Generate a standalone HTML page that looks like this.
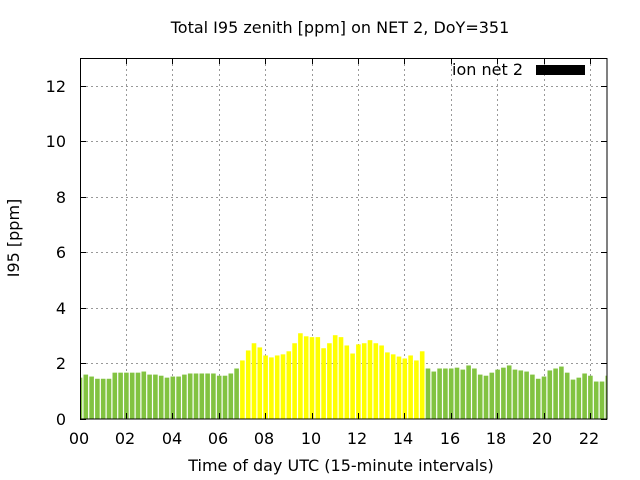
<!DOCTYPE html>
<html><head><meta charset="utf-8"><style>body{margin:0;background:#fff}svg{display:block;font-family:"DejaVu Sans","Liberation Sans",sans-serif}</style></head><body>
<svg width="640" height="480" viewBox="0 0 640 480" xmlns="http://www.w3.org/2000/svg">
<defs><clipPath id="c"><rect x="80" y="58" width="527" height="361"/></clipPath></defs>
<text x="340" y="33" font-size="16" text-anchor="middle">Total I95 zenith [ppm] on NET 2, DoY=351</text>
<g stroke="#999" stroke-dasharray="2,3" stroke-width="1">
<line x1="81" x2="606" y1="363.5" y2="363.5"/><line x1="81" x2="606" y1="308.5" y2="308.5"/><line x1="81" x2="606" y1="252.5" y2="252.5"/><line x1="81" x2="606" y1="197.5" y2="197.5"/><line x1="81" x2="606" y1="141.5" y2="141.5"/><line x1="81" x2="606" y1="86.5" y2="86.5"/>
<line x1="126.5" x2="126.5" y1="59" y2="418"/><line x1="172.5" x2="172.5" y1="59" y2="418"/><line x1="219.5" x2="219.5" y1="59" y2="418"/><line x1="265.5" x2="265.5" y1="59" y2="418"/><line x1="312.5" x2="312.5" y1="59" y2="418"/><line x1="358.5" x2="358.5" y1="59" y2="418"/><line x1="404.5" x2="404.5" y1="59" y2="418"/><line x1="451.5" x2="451.5" y1="59" y2="418"/><line x1="497.5" x2="497.5" y1="59" y2="418"/><line x1="544.5" x2="544.5" y1="59" y2="418"/><line x1="590.5" x2="590.5" y1="59" y2="418"/>
</g>
<g clip-path="url(#c)"><g transform="translate(0,419) scale(1,-27.75)" fill="#82c341">
<rect x="77.7" width="4.6" height="1.49"/><rect x="83.5" width="4.6" height="1.6"/><rect x="89.3" width="4.6" height="1.53"/><rect x="95.1" width="4.6" height="1.45"/><rect x="100.9" width="4.6" height="1.45"/><rect x="106.7" width="4.6" height="1.45"/><rect x="112.5" width="4.6" height="1.67"/><rect x="118.3" width="4.6" height="1.67"/><rect x="124.1" width="4.6" height="1.67"/><rect x="129.9" width="4.6" height="1.67"/><rect x="135.7" width="4.6" height="1.67"/><rect x="141.5" width="4.6" height="1.71"/><rect x="147.3" width="4.6" height="1.6"/><rect x="153.1" width="4.6" height="1.6"/><rect x="158.9" width="4.6" height="1.56"/><rect x="164.7" width="4.6" height="1.49"/><rect x="170.5" width="4.6" height="1.53"/><rect x="176.3" width="4.6" height="1.53"/><rect x="182.1" width="4.6" height="1.6"/><rect x="187.9" width="4.6" height="1.64"/><rect x="193.7" width="4.6" height="1.64"/><rect x="199.5" width="4.6" height="1.64"/><rect x="205.3" width="4.6" height="1.64"/><rect x="211.1" width="4.6" height="1.64"/><rect x="216.9" width="4.6" height="1.56"/><rect x="222.7" width="4.6" height="1.56"/><rect x="228.5" width="4.6" height="1.64"/><rect x="234.3" width="4.6" height="1.82"/>
<g fill="#ffff00">
<rect x="240.1" width="4.6" height="2.11"/><rect x="245.9" width="4.6" height="2.47"/><rect x="251.7" width="4.6" height="2.73"/><rect x="257.5" width="4.6" height="2.58"/><rect x="263.3" width="4.6" height="2.29"/><rect x="269.1" width="4.6" height="2.22"/><rect x="274.9" width="4.6" height="2.29"/><rect x="280.7" width="4.6" height="2.33"/><rect x="286.5" width="4.6" height="2.44"/><rect x="292.3" width="4.6" height="2.73"/><rect x="298.1" width="4.6" height="3.09"/><rect x="303.9" width="4.6" height="2.98"/><rect x="309.7" width="4.6" height="2.95"/><rect x="315.5" width="4.6" height="2.95"/><rect x="321.3" width="4.6" height="2.55"/><rect x="327.1" width="4.6" height="2.73"/><rect x="332.9" width="4.6" height="3.02"/><rect x="338.7" width="4.6" height="2.95"/><rect x="344.5" width="4.6" height="2.65"/><rect x="350.3" width="4.6" height="2.36"/><rect x="356.1" width="4.6" height="2.69"/><rect x="361.9" width="4.6" height="2.73"/><rect x="367.7" width="4.6" height="2.84"/><rect x="373.5" width="4.6" height="2.73"/><rect x="379.3" width="4.6" height="2.65"/><rect x="385.1" width="4.6" height="2.40"/><rect x="390.9" width="4.6" height="2.33"/><rect x="396.7" width="4.6" height="2.25"/><rect x="402.5" width="4.6" height="2.18"/><rect x="408.3" width="4.6" height="2.29"/><rect x="414.1" width="4.6" height="2.11"/><rect x="419.9" width="4.6" height="2.44"/>
</g>
<rect x="425.7" width="4.6" height="1.82"/><rect x="431.5" width="4.6" height="1.71"/><rect x="437.3" width="4.6" height="1.82"/><rect x="443.1" width="4.6" height="1.82"/><rect x="448.9" width="4.6" height="1.82"/><rect x="454.7" width="4.6" height="1.85"/><rect x="460.5" width="4.6" height="1.78"/><rect x="466.3" width="4.6" height="1.93"/><rect x="472.1" width="4.6" height="1.82"/><rect x="477.9" width="4.6" height="1.6"/><rect x="483.7" width="4.6" height="1.56"/><rect x="489.5" width="4.6" height="1.67"/><rect x="495.3" width="4.6" height="1.78"/><rect x="501.1" width="4.6" height="1.85"/><rect x="506.9" width="4.6" height="1.93"/><rect x="512.7" width="4.6" height="1.78"/><rect x="518.5" width="4.6" height="1.75"/><rect x="524.3" width="4.6" height="1.71"/><rect x="530.1" width="4.6" height="1.6"/><rect x="535.9" width="4.6" height="1.45"/><rect x="541.7" width="4.6" height="1.53"/><rect x="547.5" width="4.6" height="1.75"/><rect x="553.3" width="4.6" height="1.82"/><rect x="559.1" width="4.6" height="1.89"/><rect x="564.9" width="4.6" height="1.67"/><rect x="570.7" width="4.6" height="1.42"/><rect x="576.5" width="4.6" height="1.49"/><rect x="582.3" width="4.6" height="1.64"/><rect x="588.1" width="4.6" height="1.56"/><rect x="593.9" width="4.6" height="1.35"/><rect x="599.7" width="4.6" height="1.35"/><rect x="605.5" width="4.6" height="1.56"/>
</g></g>
<rect x="80.5" y="58.5" width="526.5" height="360.5" fill="none" stroke="#000" stroke-width="1"/>
<g stroke="#000" stroke-width="1">
<path d="M80 419.5h6M80 363.5h6M80 308.5h6M80 252.5h6M80 197.5h6M80 141.5h6M80 86.5h6M601 419.5h6M601 363.5h6M601 308.5h6M601 252.5h6M601 197.5h6M601 141.5h6M601 86.5h6"/>
<path d="M80.5 413v6M126.5 413v6M172.5 413v6M219.5 413v6M265.5 413v6M312.5 413v6M358.5 413v6M404.5 413v6M451.5 413v6M497.5 413v6M544.5 413v6M590.5 413v6M126.5 58v6M172.5 58v6M219.5 58v6M265.5 58v6M312.5 58v6M358.5 58v6M404.5 58v6M451.5 58v6M497.5 58v6M544.5 58v6M590.5 58v6"/>
</g>
<g font-size="16" text-anchor="end">
<text x="66" y="425">0</text><text x="66" y="369">2</text><text x="66" y="314">4</text><text x="66" y="258">6</text><text x="66" y="203">8</text><text x="66" y="147">10</text><text x="66" y="92">12</text>
</g>
<g font-size="16" text-anchor="middle">
<text x="79" y="444">00</text><text x="125" y="444">02</text><text x="172" y="444">04</text><text x="218" y="444">06</text><text x="264" y="444">08</text><text x="311" y="444">10</text><text x="357" y="444">12</text><text x="403" y="444">14</text><text x="450" y="444">16</text><text x="496" y="444">18</text><text x="542" y="444">20</text><text x="589" y="444">22</text>
</g>
<text x="523" y="75" font-size="16" text-anchor="end">ion net 2</text>
<rect x="536" y="65" width="49" height="10" fill="#000"/>
<text transform="translate(19,238) rotate(-90)" font-size="16" text-anchor="middle">I95 [ppm]</text>
<text x="341" y="471" font-size="16" text-anchor="middle">Time of day UTC (15-minute intervals)</text>
</svg></body></html>
